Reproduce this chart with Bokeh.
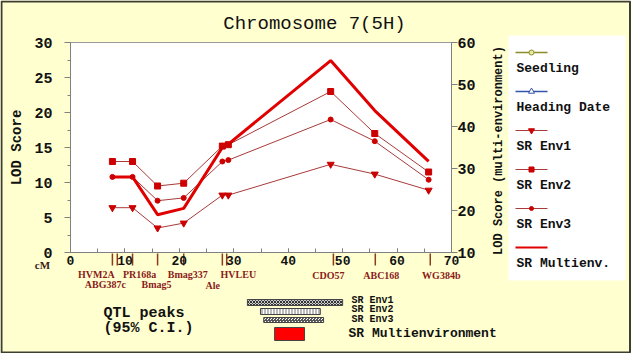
import math
from bokeh.plotting import figure
from bokeh.models import Range1d, LinearAxis, SingleIntervalTicker, ColumnDataSource
from bokeh.core.properties import value
from bokeh.embed import file_html
from bokeh.resources import INLINE

# ---------------- data ----------------
positions = [7.7, 11.4, 16.0, 20.8, 27.9, 29.0, 47.8, 55.9, 65.8]          # cM
sr_env1 = [6.4, 6.4, 3.5, 4.2, 8.2, 8.2, 12.6, 11.2, 8.9]                  # LOD
sr_env2 = [13.0, 13.0, 9.5, 9.9, 15.2, 15.4, 23.0, 17.0, 11.5]             # LOD
sr_env3 = [10.8, 10.8, 7.4, 7.8, 13.0, 13.2, 19.0, 15.9, 10.4]             # LOD
sr_multi = [28.0, 28.0, 19.0, 20.5, 35.0, 35.8, 55.7, 43.8, 31.7]          # LOD (multi-env axis)

marker_names = ["HVM2A", "ABG387c", "PR168a", "Bmag5", "Bmag337", "Ale", "HVLEU",
                "CDO57", "ABC168", "WG384b"]
marker_cm = [7.7, 8.6, 11.4, 16.0, 20.8, 28.7, 27.9, 48.3, 56.0, 66.1]

ci_names = ["SR Env1", "SR Env2", "SR Env3", "SR Multienvironment"]
ci_low = [32.5, 34.9, 35.5, 37.5]
ci_high = [50.0, 45.9, 46.5, 43.0]

legend_labels = ["Seedling", "Heading Date", "SR Env1", "SR Env2", "SR Env3", "SR Multienv."]

# ---------------- layout (pixel placement of the chart area) ----------------
W, H = 631, 353
FL, FR, FT, FB = 70, 451, 42, 252          # plot box in canvas pixels
XMAX, YMAX = 70, 30                        # cM and LOD extent of the plot box
M0, M1 = 10, 60                            # multi-environment axis extent


def X(px):
    return (px - FL) * XMAX / (FR - FL)


def Y(py):
    return (FB - py) * YMAX / (FB - FT)


def M(lod):
    return M0 + lod * (M1 - M0) / YMAX


BG = "#FFFFD0"
RED = "#CC0000"
THIN = "#A83A3A"
DARK = "#111111"
MONO = value("Liberation Mono")
SERIF = value("Liberation Serif")

p = figure(width=W, height=H, x_range=Range1d(X(0), X(W)), y_range=Range1d(Y(H), Y(0)),
           output_backend="svg", toolbar_location=None,
           min_border_left=0, min_border_right=0, min_border_top=0, min_border_bottom=0,
           background_fill_color=BG, border_fill_color=BG, outline_line_color=None)
p.grid.visible = False
p.extra_y_ranges = {"multi": Range1d(M(Y(H)), M(Y(0)))}

# white plot box
p.quad(left=[0], right=[XMAX], bottom=[0], top=[YMAX], fill_color="white",
       line_color="#999999", line_width=1)

# x axis
xa = p.xaxis[0]
xa.fixed_location = 0
xa.bounds = (0, XMAX)
xa.ticker = SingleIntervalTicker(interval=10, num_minor_ticks=2)
xa.major_tick_in = 4
xa.major_tick_out = 0
xa.minor_tick_in = 4
xa.minor_tick_out = 0
xa.major_label_standoff = 3
xa.major_label_text_font = "Liberation Mono"
xa.major_label_text_font_style = "bold"
xa.major_label_text_font_size = "13px"
xa.major_label_text_color = DARK
xa.axis_line_color = "#808080"
xa.major_tick_line_color = "#808080"
xa.minor_tick_line_color = "#808080"

# left axis
ya = p.yaxis[0]
ya.fixed_location = 0
ya.bounds = (0, YMAX)
ya.ticker = SingleIntervalTicker(interval=5, num_minor_ticks=2)
ya.major_tick_out = 6
ya.major_tick_in = 0
ya.minor_tick_out = 3
ya.minor_tick_in = 0
ya.major_label_standoff = 12
ya.major_label_text_font = "Liberation Mono"
ya.major_label_text_font_style = "bold"
ya.major_label_text_font_size = "15px"
ya.major_label_text_color = DARK
ya.axis_label = "LOD Score"
ya.axis_label_text_font = "Liberation Mono"
ya.axis_label_text_font_style = "bold"
ya.axis_label_text_font_size = "14px"
ya.axis_label_text_color = DARK
ya.axis_label_standoff = 6
ya.axis_line_color = "#808080"
ya.major_tick_line_color = "#808080"
ya.minor_tick_line_color = "#808080"

# right axis
ra = LinearAxis(y_range_name="multi", ticker=SingleIntervalTicker(interval=10, num_minor_ticks=0))
ra.fixed_location = XMAX
ra.bounds = (M0, M1)
ra.major_tick_out = 6
ra.major_tick_in = 0
ra.minor_tick_out = 0
ra.major_label_standoff = 0
ra.major_label_text_font = "Liberation Mono"
ra.major_label_text_font_style = "bold"
ra.major_label_text_font_size = "15px"
ra.major_label_text_color = DARK
ra.axis_line_color = "#808080"
ra.major_tick_line_color = "#808080"
p.add_layout(ra, "right")
p.text(x=[X(498)], y=[Y(150)], text=["LOD Score (multi-environment)"], angle=math.pi / 2,
       text_align="center", text_baseline="middle", text_font=MONO, text_font_style="bold",
       text_font_size="12px", text_color=DARK)

# ---------------- series ----------------
src = ColumnDataSource(dict(cm=positions, env1=sr_env1, env2=sr_env2, env3=sr_env3, multi=sr_multi))
for col in ["env1", "env2", "env3"]:
    p.line("cm", col, source=src, line_color=THIN, line_width=1)
p.line("cm", "multi", source=src, y_range_name="multi", line_color="#E00000", line_width=3)
p.scatter("cm", "env1", source=src, marker="inverted_triangle", size=7, color=RED)
p.scatter("cm", "env2", source=src, marker="square", size=6, color=RED)
p.scatter("cm", "env3", source=src, marker="circle", size=5, color=RED)

# ---------------- genetic markers below the axis ----------------
msrc = ColumnDataSource(dict(
    x=marker_cm, name=marker_names,
    dx=[-16, -12, 7, -1, 4, -14, 16, -5, 6, 11],
    y=[Y(274), Y(284), Y(274), Y(284), Y(274), Y(285), Y(274), Y(275), Y(275), Y(275)],
    y0=[Y(253)] * len(marker_cm), y1=[Y(265)] * len(marker_cm),
))
p.segment(x0="x", y0="y0", x1="x", y1="y1", source=msrc, line_color="#8B3A1A", line_width=1.5)
p.text(x="x", y="y", text="name", x_offset="dx", source=msrc, text_align="center",
       text_baseline="middle", text_font=SERIF, text_font_style="bold",
       text_font_size="10px", text_color="#8B1A1A")
p.text(x=[X(42)], y=[Y(264)], text=["cM"], text_align="center", text_baseline="middle",
       text_font=SERIF, text_font_style="bold", text_font_size="11px", text_color="#3A1A1A")

# ---------------- title ----------------
p.text(x=[X(314)], y=[Y(23)], text=["Chromosome 7(5H)"], text_align="center",
       text_baseline="middle", text_font=MONO, text_font_size="19px", text_color=DARK)

# ---------------- QTL confidence intervals ----------------
p.text(x=[X(103), X(103)], y=[Y(313), Y(328)], text=["QTL peaks", "(95% C.I.)"],
       text_baseline="middle", text_font=MONO, text_font_style="bold",
       text_font_size="15px", text_color=DARK)
ci_src = ColumnDataSource(dict(
    left=ci_low, right=ci_high, name=ci_names,
    top=[Y(299), Y(308), Y(317), Y(327)], bottom=[Y(305), Y(314), Y(322), Y(340)],
    fill=["#CCCCCC", "#BBBBBB", "white", "#FF0000"],
    hatch=["diagonal_cross", "vertical_line", "criss_cross", "blank"],
    hcolor=["#333333", "white", "#555555", "#FF0000"],
    lx=[X(351), X(351), X(351), X(348)],
    ly=[Y(300), Y(309), Y(319), Y(333)],
    size=["10px", "10px", "10px", "13px"],
))
p.quad(left="left", right="right", top="top", bottom="bottom", source=ci_src,
       fill_color="fill", hatch_pattern="hatch", hatch_color="hcolor", hatch_scale=3,
       line_color="#444444", line_width=1)
p.text(x="lx", y="ly", text="name", source=ci_src, text_baseline="middle", text_font=MONO,
       text_font_style="bold", text_font_size="size", text_color=DARK)

# ---------------- legend ----------------
p.quad(left=[X(508)], right=[X(625)], top=[Y(35)], bottom=[Y(280)], fill_color="white",
       line_color=None)
leg_y = [52 + 39 * i for i in range(len(legend_labels))]
leg_src = ColumnDataSource(dict(
    x0=[X(515)] * 6, x1=[X(547)] * 6,
    y=[Y(v) for v in leg_y], ty=[Y(v + 16) for v in leg_y], tx=[X(516)] * 6,
    label=legend_labels,
    color=["#8B8B2A", "#3355AA", THIN, THIN, THIN, "#E00000"],
    width=[1.5, 1.5, 1, 1, 1, 2],
))
p.segment(x0="x0", y0="y", x1="x1", y1="y", source=leg_src, line_color="color", line_width="width")
mk = ColumnDataSource(dict(
    x=[X(531)] * 5, y=[Y(v) for v in leg_y[:5]],
    marker=["circle", "triangle", "inverted_triangle", "square", "circle"],
    fill=["#E8E8A0", "white", RED, RED, RED],
    line=["#8B8B2A", "#3355AA", RED, RED, RED],
    size=[5, 6, 6, 5, 4],
))
p.scatter(x="x", y="y", marker="marker", size="size", fill_color="fill", line_color="line", source=mk)
p.text(x="tx", y="ty", text="label", source=leg_src, text_baseline="middle", text_font=MONO,
       text_font_style="bold", text_font_size="13px", text_color=DARK)

# ---------------- outer border ----------------
p.quad(left=[X(1)], right=[X(W - 1.5)], top=[Y(1)], bottom=[Y(H - 1)], fill_color=None,
       line_color="#3F3F30", line_width=2)

open("out.html", "w").write(file_html(p, INLINE))
